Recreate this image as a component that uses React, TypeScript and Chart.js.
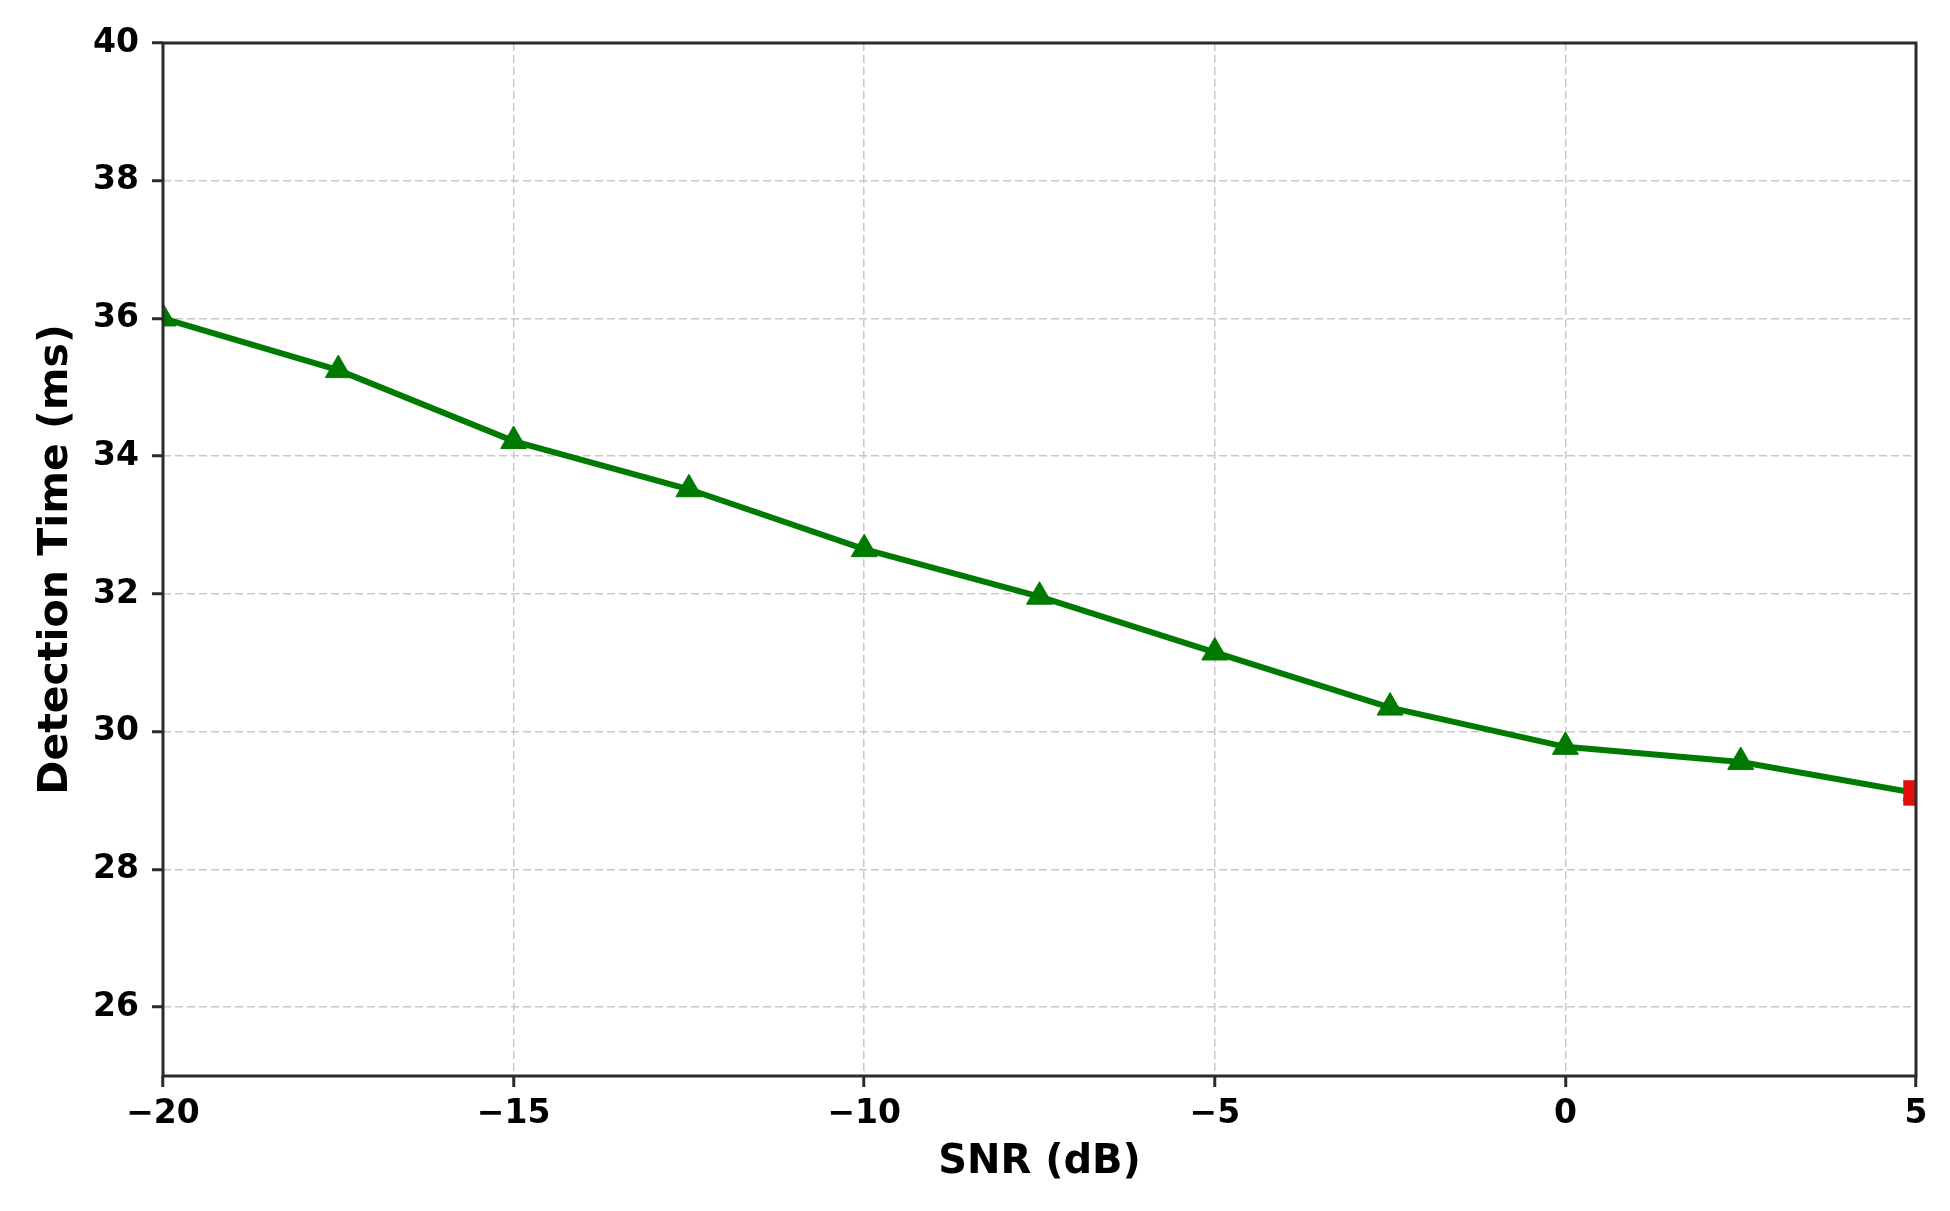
import { useEffect, useRef } from "react"
import { Chart, registerables, type Plugin } from "chart.js"

Chart.register(...registerables)

// SNR points (dB) and measured detection time (ms)
const snrValues = [-20, -17.5, -15, -12.5, -10, -7.5, -5, -2.5, 0, 2.5, 5]
const detectionTime = [36.0, 35.25, 34.22, 33.52, 32.65, 31.96, 31.15, 30.35, 29.78, 29.56, 29.11]
// highlighted end point
const highlightSnr = [5]
const highlightTime = [29.11]

const xTicks = [-20, -15, -10, -5, 0, 5]
const yTicks = [26, 28, 30, 32, 34, 36, 38, 40]

const FONT = "'DejaVu Sans', sans-serif"

const fmt = (v: number) => (v < 0 ? "\u2212" + Math.abs(v) : String(v))

// frame around the plot area, drawn on top like matplotlib spines
const framePlugin: Plugin = {
  id: "frame",
  afterDraw(chart) {
    const { ctx, chartArea } = chart
    ctx.save()
    ctx.strokeStyle = "#2b2b2b"
    ctx.lineWidth = 3
    ctx.strokeRect(chartArea.left, chartArea.top, chartArea.right - chartArea.left, chartArea.bottom - chartArea.top)
    ctx.restore()
  },
}

export default function App() {
  const canvasRef = useRef<HTMLCanvasElement>(null)

  useEffect(() => {
    if (!canvasRef.current) return
    const chart = new Chart(canvasRef.current, {
      type: "line",
      data: {
        datasets: [
          {
            label: "highlight",
            data: highlightSnr.map((x, i) => ({ x, y: highlightTime[i] })),
            showLine: false,
            pointStyle: "rect",
            pointRadius: 18,
            backgroundColor: "#e01010",
            borderColor: "#e01010",
            borderWidth: 0,
            clip: 0,
          },
          {
            label: "Detection Time",
            data: snrValues.map((x, i) => ({ x, y: detectionTime[i] })),
            borderColor: "#007a00",
            backgroundColor: "#007a00",
            borderWidth: 6,
            pointStyle: "triangle",
            pointRadius: 15,
            pointBorderWidth: 1,
            tension: 0,
            clip: 0,
          },
        ],
      },
      options: {
        animation: false,
        responsive: true,
        maintainAspectRatio: false,
        layout: { padding: { top: 43, right: 34, bottom: 0, left: 0 } },
        plugins: { legend: { display: false }, tooltip: { enabled: false } },
        scales: {
          x: {
            type: "linear",
            min: -20,
            max: 5,
            afterBuildTicks: (s) => {
              s.ticks = xTicks.map((value) => ({ value }))
            },
            afterFit: (s) => {
              s.height = 135
            },
            border: { display: false, dash: [8, 4] },
            grid: { color: "#c8c8c8", lineWidth: 1.5, tickColor: "#2b2b2b", tickWidth: 3, tickLength: 11 },
            ticks: {
              color: "#000",
              padding: 8,
              maxRotation: 0,
              font: { family: FONT, size: 33, weight: "bold" },
              callback: (v) => fmt(Number(v)),
            },
            title: {
              display: true,
              text: "SNR (dB)",
              color: "#000",
              font: { family: FONT, size: 40, weight: "bold" },
              padding: { top: 0, bottom: 24 },
            },
          },
          y: {
            type: "linear",
            min: 25,
            max: 40,
            afterBuildTicks: (s) => {
              s.ticks = yTicks.map((value) => ({ value }))
            },
            afterFit: (s) => {
              s.width = 163
            },
            border: { display: false, dash: [8, 4] },
            grid: { color: "#c8c8c8", lineWidth: 1.5, tickColor: "#2b2b2b", tickWidth: 3, tickLength: 11 },
            ticks: {
              color: "#000",
              padding: 13,
              font: { family: FONT, size: 33, weight: "bold" },
              callback: (v) => fmt(Number(v)),
            },
            title: {
              display: true,
              text: "Detection Time (ms)",
              color: "#000",
              font: { family: FONT, size: 41, weight: "bold" },
              padding: { top: 32, bottom: 0 },
            },
          },
        },
      },
      plugins: [framePlugin],
    })
    return () => chart.destroy()
  }, [])

  return (
    <div style={{ position: "absolute", left: 0, top: 0, width: 1950, height: 1211, background: "#fff" }}>
      <canvas ref={canvasRef} />
    </div>
  )
}
